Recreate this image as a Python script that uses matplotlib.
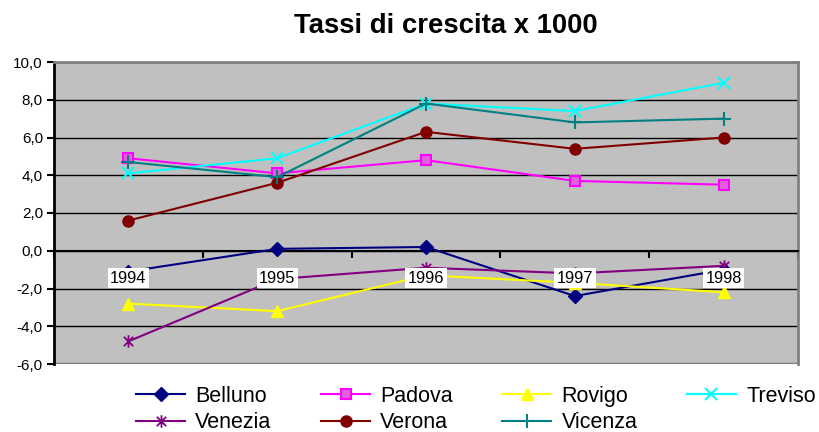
import matplotlib
matplotlib.use("Agg")
import matplotlib.pyplot as plt
from matplotlib.path import Path
from matplotlib.ticker import FixedLocator, FuncFormatter, NullFormatter
from matplotlib.transforms import offset_copy

plt.rcParams['font.family'] = ['Liberation Sans', 'DejaVu Sans']

years = ["1994", "1995", "1996", "1997", "1998"]
belluno = [-1.1, 0.1, 0.2, -2.4, -1.0]
padova = [4.9, 4.1, 4.8, 3.7, 3.5]
rovigo = [-2.8, -3.2, -1.3, -1.7, -2.2]
treviso = [4.1, 4.9, 7.8, 7.4, 8.9]
venezia = [-4.8, -1.5, -0.9, -1.2, -0.8]
verona = [1.6, 3.6, 6.3, 5.4, 6.0]
vicenza = [4.7, 3.9, 7.8, 6.8, 7.0]
yticks = [-6, -4, -2, 0, 2, 4, 6, 8, 10]

asterisk = Path([(0, -1), (0, 1), (-0.75, -0.75), (0.75, 0.75), (-0.75, 0.75), (0.75, -0.75)],
                [Path.MOVETO, Path.LINETO, Path.MOVETO, Path.LINETO, Path.MOVETO, Path.LINETO])

W, H = 820, 432
fig = plt.figure(figsize=(W / 100, H / 100), dpi=100)
ax = fig.add_axes([54 / W, 1 - 364 / H, (798 - 54) / W, (364 - 62) / H])
ax.set_facecolor('#C0C0C0')

x = list(range(len(years)))
series = [
    ("Belluno", belluno, dict(color='#000080', marker='D', ms=7, mfc='#000080', mec='#000080')),
    ("Padova", padova, dict(color='#FF00FF', marker='s', ms=7.5, mfc='#E060E0', mec='#FF00FF', mew=1.5)),
    ("Rovigo", rovigo, dict(color='#FFFF00', marker='^', ms=9, mfc='#FFFF00', mec='#FFFF00')),
    ("Treviso", treviso, dict(color='#00FFFF', marker='x', ms=9, mew=1.5)),
    ("Venezia", venezia, dict(color='#800080', marker=asterisk, ms=9, mew=1.3)),
    ("Verona", verona, dict(color='#800000', marker='o', ms=8, mfc='#800000', mec='#800000')),
    ("Vicenza", vicenza, dict(color='#008080', marker='+', ms=10, mew=1.5)),
]
handles = {}
for name, vals, kw in series:
    handles[name], = ax.plot(x, vals, lw=1.5, label=name, zorder=3, **kw)

ax.set_xlim(-0.5, len(years) - 0.5)
ax.set_ylim(-6, 10)
ax.yaxis.set_major_locator(FixedLocator(yticks))
ax.yaxis.set_major_formatter(FuncFormatter(lambda v, p: f"{v:.1f}".replace('.', ',')))
ax.yaxis.grid(True, color='black', lw=1.0)
ax.set_axisbelow(True)
ax.tick_params(axis='y', direction='out', length=5, width=1.5, labelsize=11, pad=3)

ax.xaxis.set_major_locator(FixedLocator([i - 0.5 for i in range(len(years) + 1)]))
ax.xaxis.set_major_formatter(NullFormatter())
ax.tick_params(axis='x', which='major', direction='out', length=5, width=1.5)

lbl_tr = offset_copy(ax.transData, fig=fig, x=0, y=-27.5, units='dots')
for xi, yr in zip(x, years):
    ax.text(xi, 0, yr, transform=lbl_tr, ha='center', va='center', fontsize=11.8, zorder=5,
            bbox=dict(facecolor='white', edgecolor='none', pad=1.8))

ax.spines['bottom'].set_position(('data', 0))
ax.spines['bottom'].set_color('black')
ax.spines['bottom'].set_linewidth(1.5)
ax.spines['left'].set_color('black')
ax.spines['left'].set_linewidth(2)
for s in ('top', 'right'):
    ax.spines[s].set_color('#808080')
    ax.spines[s].set_linewidth(2)
ax.axhline(-6, color='#808080', lw=2.5, zorder=2.5)

fig.text(446 / W, 1 - 26 / H, "Tassi di crescita x 1000", ha='center', va='center',
         fontsize=19.8, fontweight='bold')

order = ["Belluno", "Venezia", "Padova", "Verona", "Rovigo", "Vicenza", "Treviso"]
fig.legend([handles[n] for n in order], order, loc='upper left',
           bbox_to_anchor=(136 / W, 1 - 386 / H), ncol=4, frameon=False,
           fontsize=15.5, handlelength=2.28, handletextpad=0.47, columnspacing=2.3,
           borderpad=0, borderaxespad=0, labelspacing=0.24)

fig.savefig("out.png", dpi=100)
